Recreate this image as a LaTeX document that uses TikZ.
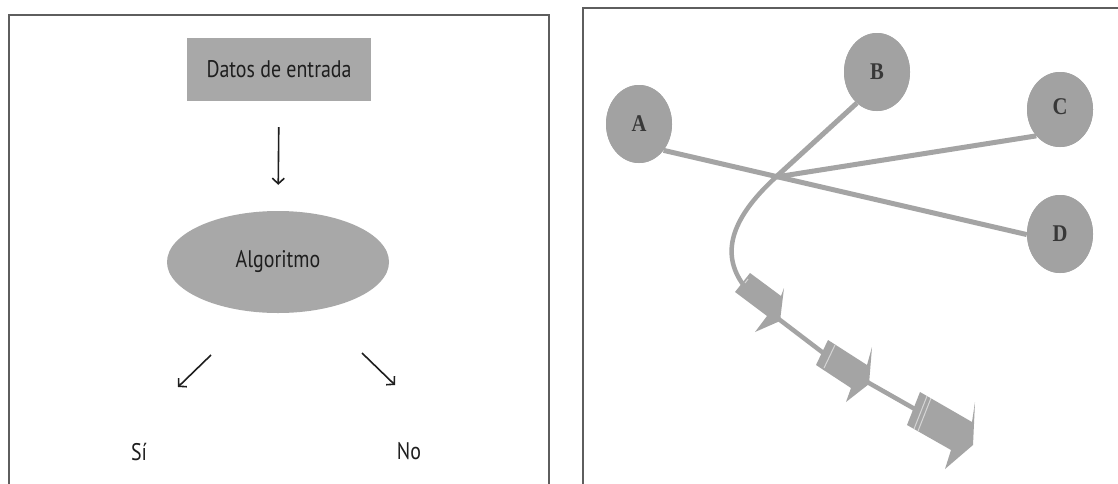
\documentclass[tikz,border=0pt]{standalone}
\usepackage{graphicx}
\usepackage{fontspec}
\setmainfont{PT Sans}
\newfontfamily\lettfont{Liberation Serif}
\usetikzlibrary{shapes.geometric,arrows.meta}
\definecolor{framegray}{HTML}{5E5E5E}
\definecolor{boxgray}{HTML}{A8A8A8}
\definecolor{cgray}{HTML}{A2A2A2}
\definecolor{lgray}{HTML}{A4A4A4}
\definecolor{txt}{HTML}{1E1E1E}
\definecolor{lettercol}{HTML}{383838}
\newcommand{\sqz}[1]{\scalebox{0.83}[1]{#1}}
\newcommand{\sqzl}[1]{\scalebox{0.86}[1]{#1}}
\tikzset{
  frameline/.style={draw=framegray, line width=2.2pt},
  lbl/.style={font=\fontsize{24}{28}\selectfont, text=txt, inner sep=0pt},
  flow/.style={draw=txt, line width=1.6pt, -{Straight Barb[length=5.5pt,width=12pt]}},
  circ/.style={ellipse, fill=cgray, minimum width=66pt, minimum height=78pt, inner sep=0pt,
    font=\lettfont\bfseries\fontsize{24}{26}\selectfont, text=lettercol},
  edgeline/.style={draw=lgray, line width=5pt},
  dartline/.style={draw=lgray, line width=4.5pt},
  dart/.style={fill=lgray},
  stripe/.style={draw=white, opacity=0.55, line width=1pt},
}
\begin{document}
\begin{tikzpicture}[x=1pt,y=-1pt]
\useasboundingbox (0,0) rectangle (1118,483);
\clip (0,0) rectangle (1118,483);
\fill[white] (0,0) rectangle (1118,483);
% frames
\draw[frameline] (9,500) -- (9,15) -- (549,15) -- (549,500);
\draw[frameline] (583,500) -- (583,8) -- (1130,8);
% left panel
\node[fill=boxgray, minimum width=184pt, minimum height=63pt, inner sep=0pt] (box) at (279,69.5) {};
\node[lbl] at (box.center) {\sqz{Datos de entrada}};
\node[ellipse, fill=boxgray, minimum width=222pt, minimum height=102pt, inner sep=0pt] (alg) at (278,262) {};
\node[lbl] at (alg.center) {\sqz{Algoritmo}};
\draw[flow, shorten <=26pt, shorten >=26pt] (box.south) -- (alg.north);
\node[lbl] (si) at (139,452) {\sqz{Sí}};
\node[lbl] (no) at (409,451) {\sqz{No}};
\coordinate (sa) at (211,355);
\coordinate (sb) at (178,387);
\coordinate (na) at (362,353);
\coordinate (nb) at (395,385);
\draw[flow] (sa) -- (sb);
\draw[flow] (na) -- (nb);
% right panel
\node[circ] (A) at (639,124) {\sqzl{A}};
\node[circ] (B) at (877,72) {\sqzl{B}};
\node[circ, minimum height=75pt] (C) at (1060,109.5) {\raisebox{6pt}{\sqzl{C}}};
\node[circ] (D) at (1060,234) {\sqzl{D}};
\coordinate (X) at (776,177);
\draw[edgeline] (A.-47) -- (D.181);
\draw[edgeline] (X) -- (C.228);
\draw[edgeline] (B.237) -- (X);
\draw[dartline, line join=round] (X) .. controls (738,212) and (718,248) .. (742,283)
  -- (780,320) -- (822,352) -- (869,383) -- (913,408) -- (955,435);
% darts
\fill[dart] (750,273) -- (781,296) -- (784,288) -- (780,321) -- (755,332) -- (767,316) -- (735,292) -- cycle;
\fill[dart] (828,340) -- (867,365) -- (872,347) -- (869,384) -- (846,402) -- (851,388) -- (816,365) -- cycle;
\fill[dart] (920,392) -- (972,422) -- (975,402) -- (973,445) -- (945,469) -- (951,450) -- (907,425) -- cycle;
\draw[stripe] (748,279) -- (745,283);
\draw[stripe] (835,345) -- (824,368);
\draw[stripe] (927,396) -- (914,429);
\draw[stripe] (931,398) -- (918,431);
% node circles redrawn on top of the line ends
\node[circ] at (A.center) {\sqzl{A}};
\node[circ] at (B.center) {\sqzl{B}};
\node[circ, minimum height=75pt] at (C.center) {\raisebox{6pt}{\sqzl{C}}};
\node[circ] at (D.center) {\sqzl{D}};
\end{tikzpicture}
\end{document}
